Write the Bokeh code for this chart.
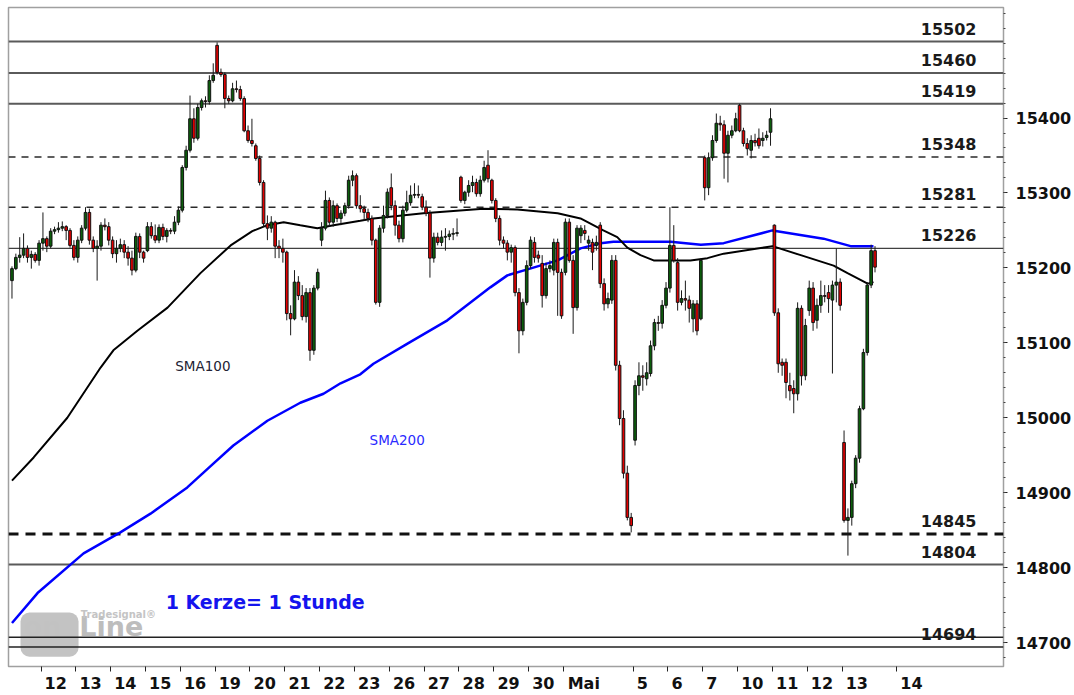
from bokeh.plotting import figure
from bokeh.models import Range1d, FixedTicker, Span, BoxAnnotation, ColumnDataSource
from bokeh.core.properties import value
from bokeh.embed import file_html
from bokeh.resources import INLINE

# ---------------- data (hourly candles, 9 Apr - 13 May) ----------------
opens = [
    15183, 15199, 15214, 15217, 15226, 15214, 15218, 15210,
    15233, 15239, 15229, 15249, 15251, 15253, 15255, 15250, 15230,
    15214, 15237, 15253, 15274, 15237, 15226, 15229, 15257, 15255,
    15237, 15219, 15226, 15231, 15221, 15213, 15197, 15242, 15221,
    15223, 15255, 15243, 15237, 15254, 15242, 15250, 15249, 15261,
    15277, 15334, 15357, 15399, 15373, 15414, 15423, 15422, 15450,
    15497, 15461, 15458, 15426, 15423, 15439, 15438, 15426, 15383,
    15370, 15363, 15346, 15314, 15259, 15253, 15261, 15229, 15226,
    15221, 15139, 15132, 15181, 15163, 15135, 15167, 15090, 15173,
    15237, 15253, 15290, 15261, 15283, 15266, 15273, 15283, 15317,
    15323, 15283, 15279, 15274, 15266, 15237, 15154, 15253, 15270,
    15307, 15283, 15257, 15239, 15277, 15287, 15297, 15298, 15295,
    15281, 15273, 15213, 15241, 15234, 15241, 15242, 15245, 15246,
    15321, 15290, 15301, 15310, 15314, 15299, 15317, 15337, 15317,
    15290, 15266, 15237, 15233, 15221, 15227, 15167, 15116, 15154,
    15203, 15234, 15217, 15206, 15163, 15199, 15197, 15234, 15194,
    15194, 15261, 15210, 15147, 15243, 15250, 15233, 15234, 15230,
    15257, 15179, 15152, 15157, 15210, 15070, 14999, 14926, 14867,
    14970, 15043, 15056, 15052, 15059, 15096, 15127, 15126, 15150,
    15173, 15230, 15207, 15154, 15159, 15157, 15132, 15152, 15132,
    15347, 15307, 15347, 15370, 15393, 15391, 15353, 15377, 15383,
    15417, 15383, 15366, 15357, 15370, 15373, 15370, 15374, 15381,
    15257, 15140, 15074, 15074, 15043, 15039, 15032, 15146, 15056,
    15143, 15173, 15130, 15150, 15163, 15167, 15157, 15177, 15181,
    14967, 14863, 14867, 14912, 14946, 15012, 15087, 15177, 15223,
]
highs = [
    15202, 15219, 15241, 15246, 15230, 15223, 15221, 15237,
    15274, 15242, 15253, 15255, 15261, 15262, 15257, 15253, 15237,
    15242, 15257, 15281, 15279, 15242, 15237, 15261, 15266, 15261,
    15242, 15237, 15239, 15237, 15229, 15223, 15247, 15246, 15223,
    15261, 15261, 15258, 15258, 15259, 15253, 15253, 15269, 15282,
    15337, 15363, 15430, 15413, 15419, 15426, 15429, 15457, 15473,
    15501, 15466, 15461, 15430, 15447, 15450, 15443, 15429, 15390,
    15399, 15366, 15350, 15317, 15270, 15269, 15263, 15237, 15239,
    15223, 15150, 15197, 15189, 15177, 15173, 15173, 15177, 15199,
    15261, 15303, 15294, 15290, 15286, 15277, 15287, 15323, 15330,
    15326, 15297, 15283, 15279, 15270, 15239, 15257, 15283, 15306,
    15326, 15290, 15263, 15283, 15303, 15310, 15313, 15310, 15299,
    15290, 15277, 15247, 15247, 15250, 15253, 15250, 15253, 15266,
    15323, 15303, 15317, 15323, 15319, 15323, 15343, 15357, 15319,
    15293, 15270, 15242, 15237, 15231, 15230, 15173, 15159, 15210,
    15242, 15241, 15223, 15217, 15207, 15210, 15239, 15239, 15199,
    15266, 15266, 15217, 15257, 15257, 15257, 15243, 15239, 15243,
    15261, 15186, 15167, 15217, 15217, 15076, 15010, 14936, 14873,
    15050, 15074, 15070, 15074, 15103, 15132, 15136, 15157, 15181,
    15281, 15257, 15213, 15170, 15183, 15163, 15157, 15157, 15213,
    15350, 15354, 15377, 15406, 15403, 15397, 15383, 15390, 15407,
    15419, 15387, 15373, 15377, 15379, 15386, 15381, 15383, 15413,
    15258, 15146, 15079, 15079, 15060, 15050, 15154, 15150, 15132,
    15183, 15181, 15159, 15183, 15177, 15177, 15183, 15226, 15186,
    14983, 14879, 14916, 14950, 15016, 15092, 15181, 15231, 15229,
]
lows = [
    15159, 15197, 15207, 15213, 15207, 15199, 15207, 15203,
    15223, 15221, 15226, 15245, 15247, 15249, 15237, 15227, 15210,
    15207, 15233, 15250, 15231, 15221, 15183, 15223, 15250, 15230,
    15213, 15207, 15221, 15213, 15203, 15190, 15194, 15213, 15207,
    15221, 15239, 15233, 15233, 15237, 15234, 15245, 15245, 15257,
    15274, 15330, 15354, 15367, 15370, 15410, 15414, 15418, 15447,
    15458, 15455, 15413, 15419, 15421, 15434, 15423, 15381, 15367,
    15362, 15343, 15310, 15255, 15237, 15247, 15213, 15213, 15207,
    15130, 15110, 15130, 15157, 15130, 15127, 15076, 15084, 15170,
    15229, 15250, 15255, 15255, 15261, 15257, 15269, 15279, 15309,
    15279, 15274, 15263, 15261, 15230, 15151, 15148, 15247, 15266,
    15277, 15243, 15234, 15234, 15274, 15283, 15293, 15293, 15277,
    15269, 15187, 15207, 15230, 15229, 15223, 15237, 15237, 15242,
    15287, 15285, 15295, 15301, 15295, 15295, 15314, 15314, 15286,
    15261, 15230, 15226, 15210, 15207, 15162, 15086, 15110, 15150,
    15199, 15207, 15207, 15147, 15159, 15194, 15190, 15136, 15132,
    15190, 15207, 15112, 15143, 15233, 15237, 15223, 15197, 15223,
    15173, 15143, 15146, 15152, 15063, 14990, 14919, 14863, 14847,
    14963, 15030, 15036, 15043, 15055, 15090, 15116, 15119, 15146,
    15167, 15207, 15143, 15150, 15143, 15127, 15114, 15110, 15130,
    15290, 15297, 15343, 15367, 15383, 15319, 15314, 15373, 15381,
    15381, 15362, 15350, 15346, 15362, 15359, 15362, 15370, 15363,
    15136, 15060, 15056, 15026, 15023, 15006, 15023, 15043, 15050,
    15136, 15116, 15119, 15140, 15154, 15140, 15059, 15154, 15143,
    14860, 14816, 14856, 14906, 14940, 15010, 15083, 15173, 15194,
]
closes = [
    15199, 15214, 15217, 15226, 15214, 15218, 15210, 15233,
    15239, 15229, 15249, 15251, 15253, 15255, 15250, 15230, 15214,
    15237, 15253, 15274, 15237, 15226, 15229, 15257, 15255, 15237,
    15219, 15226, 15231, 15221, 15213, 15197, 15242, 15221, 15213,
    15255, 15243, 15237, 15254, 15242, 15250, 15249, 15261, 15277,
    15334, 15357, 15399, 15373, 15414, 15423, 15422, 15450, 15457,
    15461, 15458, 15426, 15423, 15439, 15438, 15426, 15383, 15370,
    15366, 15346, 15314, 15259, 15253, 15261, 15229, 15226, 15221,
    15139, 15132, 15181, 15163, 15135, 15167, 15090, 15173, 15194,
    15253, 15290, 15261, 15283, 15266, 15273, 15283, 15317, 15323,
    15283, 15279, 15274, 15266, 15237, 15154, 15253, 15270, 15301,
    15283, 15257, 15239, 15277, 15287, 15297, 15298, 15297, 15281,
    15273, 15213, 15241, 15234, 15241, 15242, 15245, 15246, 15247,
    15290, 15301, 15310, 15314, 15299, 15317, 15334, 15319, 15290,
    15266, 15237, 15233, 15221, 15227, 15167, 15116, 15154, 15203,
    15237, 15214, 15213, 15163, 15199, 15203, 15234, 15194, 15136,
    15261, 15210, 15147, 15253, 15253, 15246, 15237, 15221, 15234,
    15179, 15152, 15159, 15210, 15070, 14999, 14926, 14867, 14856,
    15043, 15056, 15054, 15060, 15096, 15127, 15126, 15150, 15173,
    15230, 15210, 15154, 15159, 15157, 15146, 15152, 15116, 15210,
    15307, 15347, 15370, 15393, 15391, 15353, 15377, 15383, 15399,
    15383, 15366, 15359, 15370, 15367, 15363, 15373, 15377, 15399,
    15140, 15072, 15070, 15047, 15036, 15032, 15146, 15056, 15123,
    15173, 15127, 15150, 15163, 15162, 15159, 15177, 15181, 15150,
    14863, 14867, 14912, 14946, 15012, 15087, 15177, 15223, 15201,
]

# moving averages (candle index, value)
sma100_x = [0, 5.6, 14.3, 22.9, 26.2, 32.4, 40.2, 48.7, 56.5, 62.1, 66.0, 70.2, 74.5,
            78.9, 83.1, 90.0, 93.4, 106.3, 121.8, 130.6, 141.0, 146.9, 152.8, 156.4,
            159.0, 162.4, 165.8, 175.3, 179.7, 183.9, 196.5, 203.8, 212.3, 215.9,
            221.1, 222.6]
sma100_y = [14916, 14947, 15000, 15067, 15090, 15116, 15147, 15193, 15230, 15249, 15257,
            15261, 15257, 15253, 15257, 15263, 15266, 15273, 15279, 15278, 15273, 15266,
            15250, 15241, 15227, 15217, 15210, 15210, 15213, 15219, 15229, 15217, 15203,
            15193, 15179, 15181]
sma200_x = [0, 6.6, 18.5, 28.0, 35.8, 45.3, 52.1, 57.2, 66.0, 74.5, 80.5, 84.9, 90.0,
            93.4, 102.2, 112.5, 123.6, 128.0, 133.2, 141.0, 146.9, 152.1, 155.4, 170.2,
            178.0, 183.9, 196.5, 209.7, 216.7, 222.6]
sma200_y = [14726, 14766, 14819, 14847, 14872, 14907, 14939, 14963, 14996, 15020, 15032,
            15046, 15058, 15072, 15099, 15130, 15174, 15190, 15198, 15210, 15226, 15233,
            15235, 15235, 15231, 15233, 15250, 15239, 15229, 15229]

# horizontal levels
solid_levels = [15502, 15460, 15419, 14804]
dashed_levels = [15348, 15281]
thin_level = 15226
support_level = 14845
bottom_levels = [14707, 14694]
level_labels = [15502, 15460, 15419, 15348, 15281, 15226, 14845, 14804, 14694]

# x-axis (day starts in candle index units)
day_labels = ["12", "13", "14", "15", "16", "19", "20", "21", "22", "23", "26", "27",
              "28", "29", "30", "Mai", "5", "6", "7", "10", "11", "12", "13", "14"]
day_start = [7.5, 16.5, 25.5, 34.5, 43.5, 52.5, 61.5, 70.5, 79.5, 88.5, 97.5, 106.5,
             115.5, 124.5, 133.5, 142.5, 160.5, 169.5, 178.5, 187.5, 196.5, 205.5,
             214.5, 228.6]
y_major = [14700, 14800, 14900, 15000, 15100, 15200, 15300, 15400]
y_minor = list(range(14680, 15541, 20))

# ---------------- figure ----------------
GREEN = "#0b5e0b"
RED = "#e40000"
n = len(closes)
src = ColumnDataSource(dict(
    x=list(range(n)), h=highs, l=lows,
    top=[max(o, c) for o, c in zip(opens, closes)],
    bottom=[min(o, c) for o, c in zip(opens, closes)],
    color=[GREEN if c >= o else RED for o, c in zip(opens, closes)],
))

p = figure(width=1074, height=695, x_range=Range1d(-0.9, 256.2),
           y_range=Range1d(14668, 15547.5), output_backend="svg",
           toolbar_location=None, y_axis_location="right",
           min_border_left=8, min_border_top=7, min_border_right=71,
           min_border_bottom=29)
p.grid.visible = False
p.outline_line_color = "#a0a0a0"
p.outline_line_width = 1.5
p.background_fill_color = "white"
p.border_fill_color = "white"

# watermark
p.add_layout(BoxAnnotation(left=2.2, right=17.2, top=14740, bottom=14681,
                           fill_color="#bdbdbd", fill_alpha=0.9, line_color=None,
                           border_radius=9, level="underlay"))
p.text(x=[3.0], y=[14690], text=["on"], y_offset=-8, text_font=value("DejaVu Sans"),
       text_font_style="bold", text_font_size="27px", text_color="#eeeeee",
       level="underlay")
p.text(x=[17.4], y=[14690], text=["Line"], y_offset=-8, text_font=value("DejaVu Sans"),
       text_font_style="bold", text_font_size="27px", text_color="#bdbdbd",
       level="underlay")
p.text(x=[17.8], y=[14722], text=["Tradesignal®"], y_offset=-6,
       text_font=value("DejaVu Sans"), text_font_style="bold",
       text_font_size="10px", text_color="#c4c4c4", level="underlay")

# levels
for lv in solid_levels:
    p.add_layout(Span(location=lv, dimension="width", line_color="#5a5a5a",
                      line_width=2, level="underlay"))
for lv in dashed_levels:
    p.add_layout(Span(location=lv, dimension="width", line_color="#2a2a2a",
                      line_width=1.5, line_dash="7 6", level="underlay"))
p.add_layout(Span(location=thin_level, dimension="width", line_color="#404040",
                  line_width=1.2, level="underlay"))
p.add_layout(Span(location=support_level, dimension="width", line_color="#111111",
                  line_width=3, line_dash="10 7", level="underlay"))
for lv in bottom_levels:
    p.add_layout(Span(location=lv, dimension="width", line_color="#222222",
                      line_width=1.5, level="underlay"))

# moving averages
p.line(sma200_x, sma200_y, line_color="#0000ff", line_width=2.5)
p.line(sma100_x, sma100_y, line_color="#000000", line_width=2)

# candles
p.segment(x0="x", y0="h", x1="x", y1="l", source=src, line_color="#1a1a1a",
          line_width=1)
p.vbar(x="x", width=0.68, top="top", bottom="bottom", source=src,
       fill_color="color", line_color="#111111", line_width=1)

# texts
p.text(x=[249.2] * len(level_labels), y=level_labels,
       text=[str(v) for v in level_labels], text_align="right",
       text_baseline="alphabetic", y_offset=-13, text_font=value("DejaVu Sans"),
       text_font_style="bold", text_font_size="16px", text_color="#1a1a1a")
p.text(x=[42.2], y=[15059], text=["SMA100"], y_offset=-8, text_font=value("DejaVu Sans"),
       text_font_size="13.5px", text_color="#222233", text_baseline="alphabetic")
p.text(x=[92.4], y=[14960], text=["SMA200"], y_offset=-8, text_font=value("DejaVu Sans"),
       text_font_size="13.5px", text_color="#2a2aff", text_baseline="alphabetic")
p.text(x=[39.7], y=[14743], text=["1 Kerze= 1 Stunde"], y_offset=-8,
       text_font=value("DejaVu Sans"), text_font_style="bold",
       text_font_size="19px", text_color="#1414ee", text_baseline="alphabetic")

# x axis
label_pos = [round(s + (3.5 + 5.6 * len(t)) / 3.87, 2) for s, t in zip(day_start, day_labels)]
xax = p.xaxis[0]
xax.ticker = FixedTicker(ticks=label_pos, minor_ticks=day_start)
xax.major_label_overrides = {pos: t for pos, t in zip(label_pos, day_labels)}
xax.axis_line_color = None
xax.major_tick_line_color = None
xax.major_tick_out = 0
xax.major_tick_in = 0
xax.minor_tick_out = 5
xax.minor_tick_in = 0
xax.minor_tick_line_color = "#222222"
xax.major_label_standoff = 2
xax.major_label_text_font = "DejaVu Sans"
xax.major_label_text_font_style = "bold"
xax.major_label_text_font_size = "16px"
xax.major_label_text_color = "#111111"

# y axis (right)
yax = p.yaxis[0]
yax.ticker = FixedTicker(ticks=y_major, minor_ticks=y_minor)
yax.axis_line_color = None
yax.major_tick_out = 4
yax.major_tick_in = 0
yax.minor_tick_out = 2
yax.minor_tick_in = 0
yax.major_tick_line_color = "#222222"
yax.minor_tick_line_color = "#444444"
yax.major_label_standoff = 8
yax.major_label_text_font = "DejaVu Sans"
yax.major_label_text_font_style = "bold"
yax.major_label_text_font_size = "16px"
yax.major_label_text_color = "#111111"

open("out.html", "w").write(file_html(p, INLINE))
